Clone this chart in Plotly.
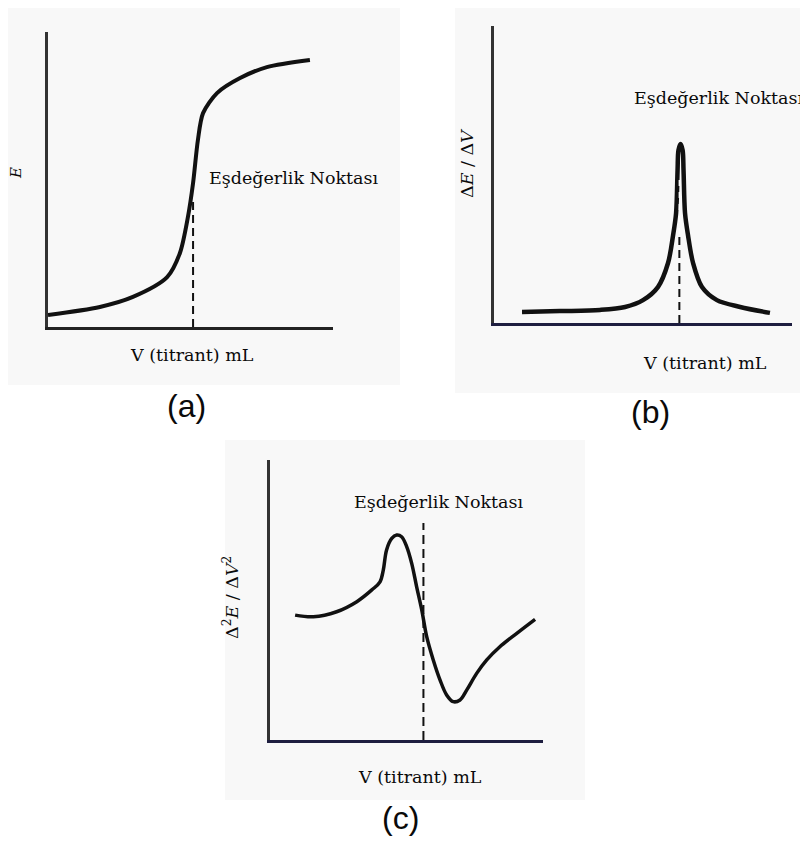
import plotly.graph_objects as go

# ---- data (schematic values, x in mL, y in arbitrary units 0-100) ----
a_x = [0.0, 1.82, 2.98, 4.18, 4.63, 4.91, 5.09, 5.26, 5.44, 5.93, 6.74, 7.68, 9.19]
a_y = [4.1, 6.8, 10.2, 16.9, 25.1, 37.3, 48.8, 63.4, 72.5, 79.3, 84.4, 88.1, 90.5]
a_eq = 5.09
a_eq_top = 43.0

b_x = [0.94, 2.21, 3.56, 4.40, 5.00, 5.50, 5.84, 6.01, 6.11, 6.16, 6.19, 6.26,
       6.33, 6.36, 6.41, 6.51, 6.68, 6.98, 7.48, 8.26, 9.26]
b_y = [3.7, 4.0, 4.4, 5.4, 7.7, 12.1, 20.2, 29.6, 37.0, 51.5, 58.2, 60.3,
       58.2, 51.5, 37.0, 29.6, 20.2, 12.1, 7.7, 5.4, 3.4]
b_eq = 6.22
b_eq_top = 30.0
b_eq_inner_top = 50.0

c_x = [0.92, 1.59, 2.44, 3.18, 3.73, 4.03, 4.15, 4.27, 4.46, 4.64, 4.82, 5.01,
       5.19, 5.37, 5.56, 5.74, 5.98, 6.23, 6.47, 6.71, 6.96, 7.21, 7.57, 7.94,
       8.42, 9.04, 9.71]
c_y = [44.6, 44.0, 45.8, 49.4, 53.6, 56.5, 60.7, 67.9, 72.0, 73.2, 72.6, 69.0,
       63.1, 54.8, 46.4, 36.9, 28.6, 21.4, 16.1, 13.7, 14.3, 17.9, 23.8, 28.6,
       33.3, 38.1, 43.1]
c_eq = 5.62
c_eq_top = 77.5

label_eq = "Eşdeğerlik Noktası"
label_x = "V (titrant) mL"
label_ya = "<i>E</i>"
label_yb = "Δ<i>E</i> / Δ<i>V</i>"
label_yc = "Δ<sup>2</sup><i>E</i> / Δ<i>V</i><sup>2</sup>"
panel_tags = ["(a)", "(b)", "(c)"]

# page body has an 8px margin: draw in an 800x841 figure and shift coords
OFF = 8
W, H = 800, 841
def px(x):
    return (x - OFF) / W
def py(y):
    return 1 - (y - OFF) / H

INK = "#111111"
fig = go.Figure()

fig.add_trace(go.Scatter(x=a_x, y=a_y, mode="lines", xaxis="x", yaxis="y",
                         line=dict(color=INK, width=4, shape="spline", smoothing=0.8)))
fig.add_trace(go.Scatter(x=[a_eq, a_eq], y=[0, a_eq_top], mode="lines", xaxis="x", yaxis="y",
                         line=dict(color=INK, width=2, dash="8px,5px")))

fig.add_trace(go.Scatter(x=b_x, y=b_y, mode="lines", xaxis="x2", yaxis="y2",
                         line=dict(color=INK, width=4.5, shape="spline", smoothing=0.9)))
fig.add_trace(go.Scatter(x=[b_eq, b_eq], y=[0, b_eq_top], mode="lines", xaxis="x2", yaxis="y2",
                         line=dict(color=INK, width=2, dash="8px,5px")))
fig.add_trace(go.Scatter(x=[b_eq, b_eq], y=[b_eq_top, b_eq_inner_top], mode="lines", xaxis="x2", yaxis="y2",
                         line=dict(color="white", width=1.5, dash="6px,6px")))

fig.add_trace(go.Scatter(x=c_x, y=c_y, mode="lines", xaxis="x3", yaxis="y3",
                         line=dict(color=INK, width=3.5, shape="spline", smoothing=1.0)))
fig.add_trace(go.Scatter(x=[c_eq, c_eq], y=[0, c_eq_top], mode="lines", xaxis="x3", yaxis="y3",
                         line=dict(color=INK, width=2, dash="9px,5px")))

ax_common = dict(range=[0, 10], showgrid=False, zeroline=False, showticklabels=False,
                 ticks="", showline=True, linewidth=3, fixedrange=True)
ay_common = dict(range=[0, 100], showgrid=False, zeroline=False, showticklabels=False,
                 ticks="", showline=True, linewidth=3, fixedrange=True)

fig.update_layout(
    width=W, height=H, margin=dict(l=0, r=0, t=0, b=0),
    paper_bgcolor="white", plot_bgcolor="rgba(0,0,0,0)", showlegend=False,
    xaxis=dict(domain=[px(48), px(333)], anchor="y", linecolor="#222222", **ax_common),
    yaxis=dict(domain=[py(327), py(32)], anchor="x", linecolor="#333333", **ay_common),
    xaxis2=dict(domain=[px(494), px(792)], anchor="y2", linecolor="#1e1e40", **ax_common),
    yaxis2=dict(domain=[py(323), py(26)], anchor="x2", linecolor="#333333", **ay_common),
    xaxis3=dict(domain=[px(270), px(543)], anchor="y3", linecolor="#1e1e40", **ax_common),
    yaxis3=dict(domain=[py(740), py(460)], anchor="x3", linecolor="#333333", **ay_common),
)

# faint scanned backgrounds
for (x0, y0, x1, y1) in [(8, 8, 400, 385), (455, 8, 808, 393), (225, 440, 585, 800)]:
    fig.add_shape(type="rect", xref="paper", yref="paper", layer="below",
                  x0=px(x0), x1=px(x1), y0=py(y1), y1=py(y0),
                  fillcolor="#f8f8f8", line=dict(width=0))

SERIF = "DejaVu Serif"
def ann(text, x, y, size=17.5, angle=0, font=SERIF, xanchor="center"):
    fig.add_annotation(text=text, x=px(x), y=py(y), xref="paper", yref="paper",
                       showarrow=False, textangle=angle, xanchor=xanchor, yanchor="middle",
                       font=dict(family=font, size=size, color="#0a0a0a"))

# panel a
ann(label_eq, 207, 178, xanchor="left")
ann(label_x, 192, 355)
ann(label_ya, 16, 173, size=15, angle=-90)
ann(panel_tags[0], 186, 406, size=32, font="Liberation Sans")
# panel b
ann(label_eq, 805, 98, xanchor="right")
ann(label_x, 705, 363)
ann(label_yb, 467, 163, angle=-90)
ann(panel_tags[1], 650, 412, size=32, font="Liberation Sans")
# panel c
ann(label_eq, 352, 502, xanchor="left")
ann(label_x, 420, 777)
ann(label_yc, 231, 598, angle=-90)
ann(panel_tags[2], 400, 818, size=32, font="Liberation Sans")

fig.write_html("out.html")
